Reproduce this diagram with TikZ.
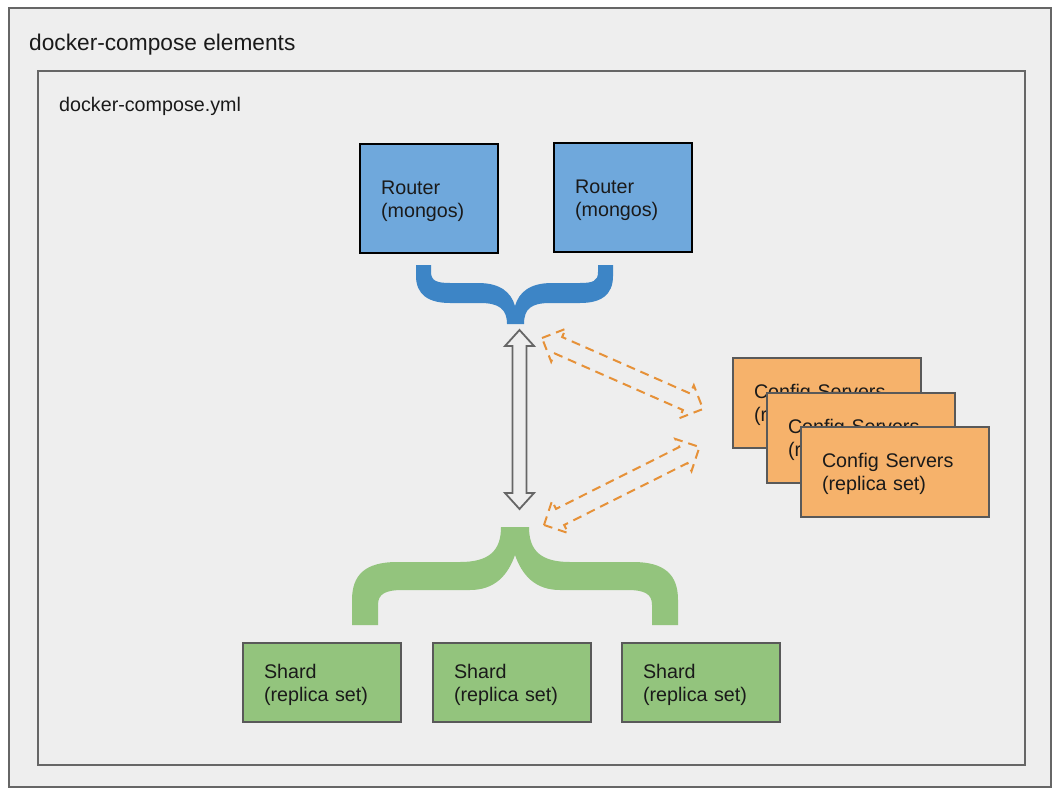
\documentclass[tikz,border=0pt]{standalone}
\usepackage{fontspec}
\setmainfont{Liberation Sans}
\usetikzlibrary{calc}
\definecolor{bgc}{HTML}{EEEEEE}
\definecolor{framec}{HTML}{666666}
\definecolor{routerfill}{HTML}{6FA8DC}
\definecolor{bluebrace}{HTML}{3D85C6}
\definecolor{greenc}{HTML}{93C47D}
\definecolor{orangefill}{HTML}{F6B26B}
\definecolor{orangeline}{HTML}{E69138}
\definecolor{boxborder}{HTML}{595959}
\definecolor{txtc}{HTML}{1A1A1A}
% hollow double arrow: #1 style, #2 from, #3 to, #4 head length, #5 head half width, #6 shaft half width
\newcommand\hollowdarrow[6]{%
  \path ($(#2)!#4!(#3)$) coordinate (hA) ($(#3)!#4!(#2)$) coordinate (hB);
  \draw[#1] (#2) -- ($(hA)!#5!90:(#3)$) -- ($(hA)!#6!90:(#3)$)
    -- ($(hB)!#6!-90:(#2)$) -- ($(hB)!#5!-90:(#2)$) -- (#3)
    -- ($(hB)!#5!90:(#2)$) -- ($(hB)!#6!90:(#2)$)
    -- ($(hA)!#6!-90:(#3)$) -- ($(hA)!#5!-90:(#3)$) -- cycle;%
}
\tikzset{
  frame/.style={draw=framec, line width=2pt, fill=bgc},
  titletext/.style={anchor=base west, inner sep=0pt, text=txtc, font=\fontsize{22.7}{27}\selectfont},
  labeltext/.style={anchor=base west, inner sep=0pt, text=txtc, font=\fontsize{19.7}{23}\selectfont},
  boxbase/.style={anchor=north west, align=left, inner xsep=21pt, inner ysep=0pt,
    text=txtc, font=\fontsize{19.7}{23}\selectfont,
    execute at begin node={\rule{0pt}{18.5pt}}},
  routerbox/.style={boxbase, draw=black, line width=2.2pt, fill=routerfill,
    text width=96pt, minimum height=109pt},
  shardbox/.style={boxbase, draw=boxborder, line width=2pt, fill=greenc,
    text width=116pt, minimum height=79pt},
  configbox/.style={boxbase, draw=boxborder, line width=2pt, fill=orangefill,
    text width=146pt, minimum height=90pt},
  grayarrow/.style={draw=framec, line width=1.8pt, fill=bgc, line join=miter},
  orangearrow/.style={draw=orangeline, line width=2pt, dash pattern=on 9pt off 6pt, line join=miter},
}
\begin{document}
\begin{tikzpicture}[x=1pt, y=-1pt]
\useasboundingbox (0,0) rectangle (1064,797);
\fill[white] (0,0) rectangle (1064,797);
% frames
\draw[frame] (8.5,8.5) rectangle (1050.5,786.5);
\node[titletext] (title) at (29,51) {docker-compose elements};
\draw[frame] (38,71) rectangle (1025,764.5);
\node[labeltext] (yml) at (59,111) {docker-compose.yml};

% routers
\node[routerbox] (r1) at (359,143) {Router\\(mongos)};
\node[routerbox] (r2) at (553,142) {Router\\(mongos)};

% blue brace
\fill[bluebrace] (416,265) -- (431,265) -- (431,272)
  .. controls (431,281) and (437,283) .. (450,283) -- (478,283)
  .. controls (500,283) and (511,292) .. (515,306)
  .. controls (519,292) and (530,283) .. (552,283) -- (580,283)
  .. controls (593,283) and (598,281) .. (598,272) -- (598,265) -- (613,265) -- (613,276)
  .. controls (613,295) and (601,303) .. (580,303) -- (550,303)
  .. controls (531,303) and (524,309) .. (524,324) -- (507,324)
  .. controls (507,309) and (499,303) .. (480,303) -- (450,303)
  .. controls (429,303) and (416,295) .. (416,276) -- cycle;

% green brace
\fill[greenc] (501,527) -- (529,527)
  .. controls (529,550) and (540,562) .. (570,562) -- (633,562)
  .. controls (665,562) and (678,575) .. (678,600) -- (678,625) -- (652,625) -- (652,605)
  .. controls (652,594) and (645,590) .. (627,590) -- (560,590)
  .. controls (535,590) and (522,575) .. (515,555)
  .. controls (508,575) and (495,590) .. (470,590) -- (403,590)
  .. controls (385,590) and (378,594) .. (378,605) -- (378,625) -- (352,625) -- (352,600)
  .. controls (352,575) and (365,562) .. (397,562) -- (460,562)
  .. controls (490,562) and (501,550) .. (501,527) -- cycle;

% shards
\node[shardbox] (s1) at (242,642) {Shard\\(replica set)};
\node[shardbox] (s2) at (432,642) {Shard\\(replica set)};
\node[shardbox] (s3) at (621,642) {Shard\\(replica set)};

% config servers
\node[configbox] (c1) at (732,357) {Config Servers\\(replica set)};
\node[configbox] (c2) at (766,392) {Config Servers\\(replica set)};
\node[configbox] (c3) at (800,426) {Config Servers\\(replica set)};

% arrow end points
\coordinate (bt) at (519.5,330);
\coordinate (gt) at (519.5,509);
\coordinate (oa1) at (542,338);
\coordinate (ob1) at (703,409);
\coordinate (oa2) at (544,525);
\coordinate (ob2) at (699.5,447);

\hollowdarrow{grayarrow}{bt}{gt}{16pt}{14.5pt}{7pt}
\hollowdarrow{orangearrow}{oa1}{ob1}{18pt}{18pt}{9pt}
\hollowdarrow{orangearrow}{oa2}{ob2}{18pt}{18pt}{9pt}
\end{tikzpicture}
\end{document}
